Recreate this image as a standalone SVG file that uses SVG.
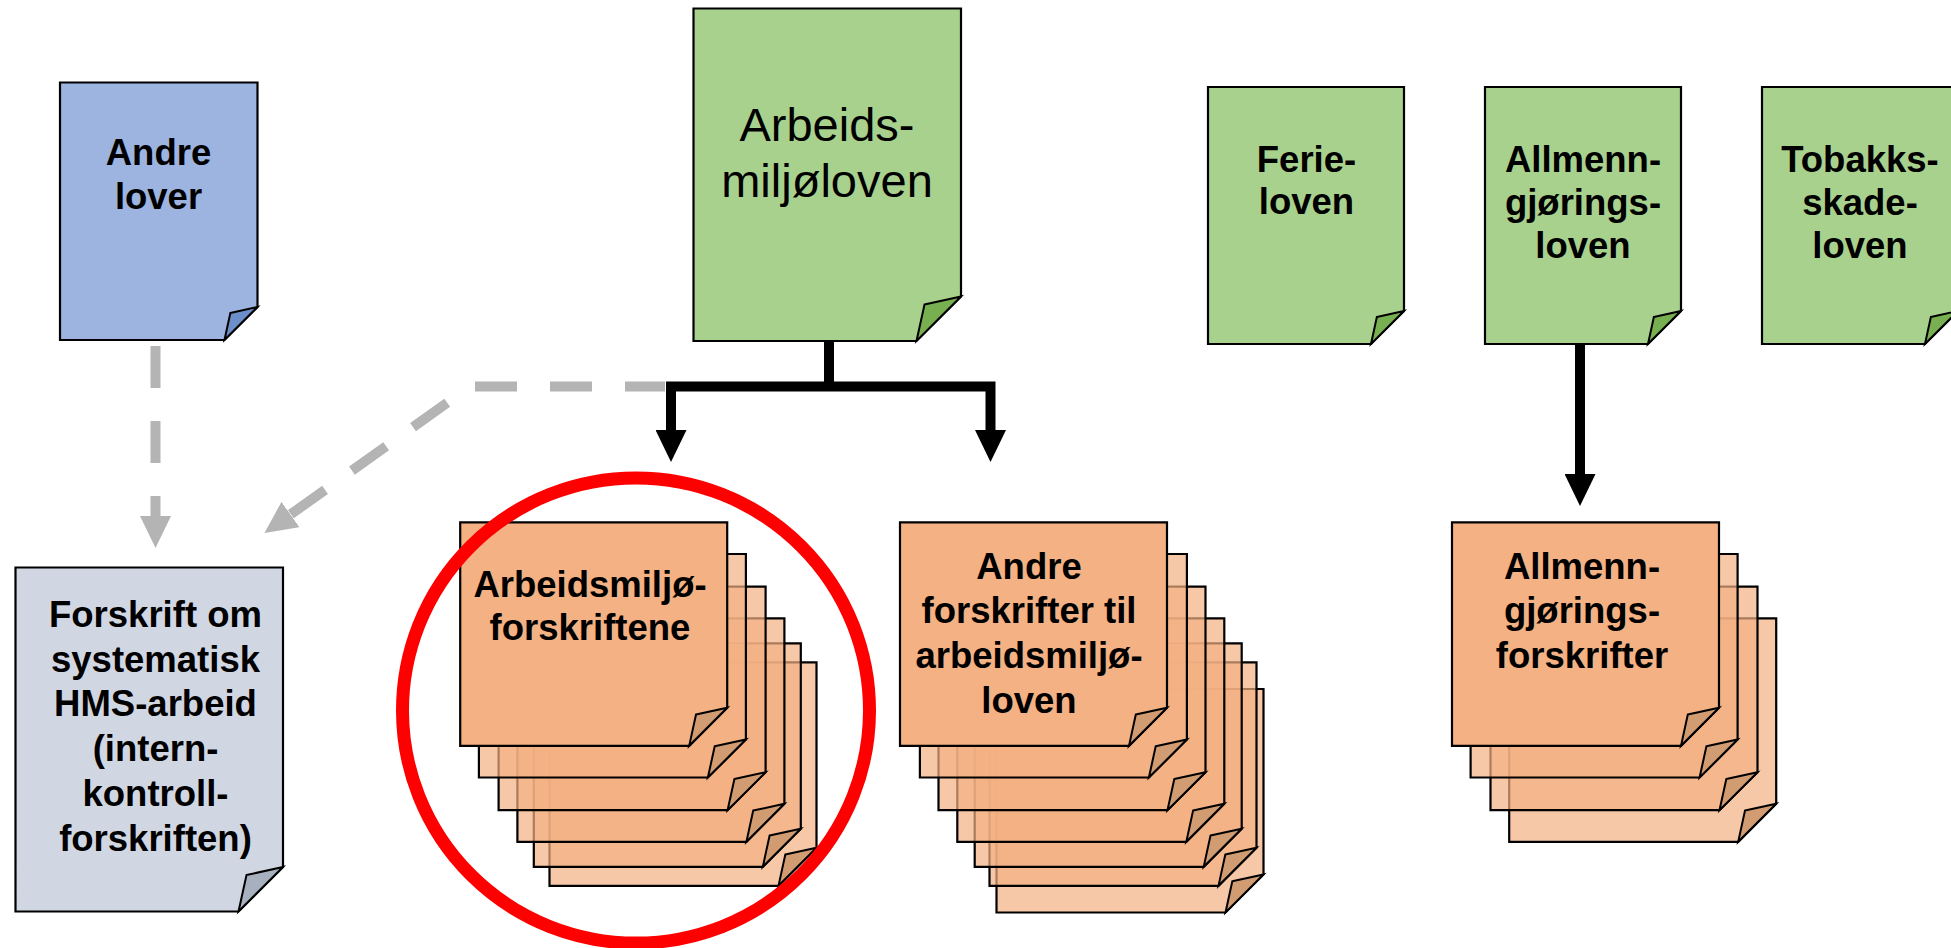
<svg xmlns="http://www.w3.org/2000/svg" xmlns:xlink="http://www.w3.org/1999/xlink" width="1951" height="948" viewBox="0 0 1951 948">
<style>
.doc{stroke:#000;stroke-width:2.2;stroke-linejoin:miter}
.fold{stroke:#000;stroke-width:2;stroke-linejoin:miter}
.blue{fill:#9CB4DF}.bluef{fill:#6C8FC9}
.green{fill:#A9D18E}.greenf{fill:#78AF50}
.gray{fill:#D1D7E2}.grayf{fill:#A7B0BF}
.t{font-family:"Liberation Sans",Arial,sans-serif;font-weight:bold;font-size:36.5px;fill:#000;text-anchor:middle}
.tr{font-family:"Liberation Sans",Arial,sans-serif;font-weight:normal;font-size:47px;fill:#000;text-anchor:middle}
.blk{fill:none;stroke:#000;stroke-width:10;stroke-linejoin:miter}
.gr{fill:none;stroke:#B4B4B4;stroke-width:10;stroke-dasharray:42 33}
</style>
<defs>
<marker id="ab" markerUnits="userSpaceOnUse" markerWidth="32" markerHeight="31" viewBox="0 0 32 31" refX="0" refY="15.5" orient="auto-start-reverse">
<path d="M0,0 L32,15.5 L0,31 Z" fill="#000"/>
</marker>
<marker id="ag" markerUnits="userSpaceOnUse" markerWidth="32" markerHeight="31" viewBox="0 0 32 31" refX="0" refY="15.5" orient="auto">
<path d="M0,0 L32,15.5 L0,31 Z" fill="#B4B4B4"/>
</marker>
<g id="back">
<path d="M0,0 H267 V185.5 L229,223.5 H0 Z" fill="#F4B183" fill-opacity="0.7" class="doc"/>
<path d="M235.8,192.3 L267,185.5 L229,223.5 Z" fill="#D29C72" class="fold"/>
</g>
<g id="front">
<path d="M0,0 H267 V185.5 L229,223.5 H0 Z" fill="#F4B183" class="doc"/>
<path d="M235.8,192.3 L267,185.5 L229,223.5 Z" fill="#D29C72" class="fold"/>
</g>
</defs>
<rect width="1951" height="948" fill="#fff"/>

<g id="connectors">
<path class="gr" d="M155.5,340 V516" stroke-dashoffset="69" marker-end="url(#ag)"/>
<path class="gr" d="M665,386.5 H470 L290.5,514.5" stroke-dashoffset="2" marker-end="url(#ag)"/>
<path class="blk" d="M829,341 V386.5"/>
<path class="blk" d="M671,430 V386.5 H990.5 V430" marker-start="url(#ab)" marker-end="url(#ab)"/>
<path class="blk" d="M1580,344 V474" marker-end="url(#ab)"/>
</g>

<g id="andre-lover">
<path class="doc blue" d="M60,82.5 H257.5 V307 L224.5,340 H60 Z"/>
<path class="fold bluef" d="M230.4,312.9 L257.5,307 L224.5,340 Z"/>
<text class="t" x="158.5" y="165">Andre</text>
<text class="t" x="158.5" y="209">lover</text>
</g>

<g id="arbeidsmiljoloven">
<path class="doc green" d="M693.5,8.5 H961 V296.5 L916.5,341 H693.5 Z"/>
<path class="fold greenf" d="M924.5,304.5 L961,296.5 L916.5,341 Z"/>
<text class="tr" x="827" y="140.7">Arbeids-</text>
<text class="tr" x="827" y="197.3">miljøloven</text>
</g>

<g id="ferieloven">
<path class="doc green" d="M1208,87 H1404 V311 L1371,344 H1208 Z"/>
<path class="fold greenf" d="M1376.9,316.9 L1404,311 L1371,344 Z"/>
<text class="t" x="1306.5" y="171.5">Ferie-</text>
<text class="t" x="1306.5" y="214">loven</text>
</g>

<g id="allmenngjoringsloven">
<path class="doc green" d="M1485,87 H1681 V311 L1648,344 H1485 Z"/>
<path class="fold greenf" d="M1653.9,316.9 L1681,311 L1648,344 Z"/>
<text class="t" x="1583" y="171.5">Allmenn-</text>
<text class="t" x="1583" y="214.5">gjørings-</text>
<text class="t" x="1583" y="258">loven</text>
</g>

<g id="tobakksskadeloven">
<path class="doc green" d="M1762,87 H1958 V311 L1925,344 H1762 Z"/>
<path class="fold greenf" d="M1930.9,316.9 L1958,311 L1925,344 Z"/>
<text class="t" x="1860" y="171.5">Tobakks-</text>
<text class="t" x="1860" y="214.5">skade-</text>
<text class="t" x="1860" y="258">loven</text>
</g>

<g id="internkontrollforskriften">
<path class="doc gray" d="M15.5,567.5 H283 V867 L238.5,911.5 H15.5 Z"/>
<path class="fold grayf" d="M246.5,875 L283,867 L238.5,911.5 Z"/>
<text class="t" x="155.5" y="627">Forskrift om</text>
<text class="t" x="155.5" y="671.7">systematisk</text>
<text class="t" x="155.5" y="716.4">HMS-arbeid</text>
<text class="t" x="155.5" y="761">(intern-</text>
<text class="t" x="155.5" y="805.8">kontroll-</text>
<text class="t" x="155.5" y="850.5">forskriften)</text>
</g>

<g id="arbeidsmiljoforskriftene">
<use xlink:href="#back" x="549.5" y="662.3"/>
<use xlink:href="#back" x="533.8" y="643.3"/>
<use xlink:href="#back" x="517.4" y="618.3"/>
<use xlink:href="#back" x="498.6" y="586.7"/>
<use xlink:href="#back" x="478.9" y="554"/>
<use xlink:href="#front" x="460.2" y="522.3"/>
<text class="t" x="590" y="596.7">Arbeidsmiljø-</text>
<text class="t" x="590" y="640">forskriftene</text>
</g>

<g id="andre-forskrifter">
<use xlink:href="#back" x="996.5" y="689"/>
<use xlink:href="#back" x="989.5" y="662.3"/>
<use xlink:href="#back" x="974.7" y="643.3"/>
<use xlink:href="#back" x="957.3" y="618.3"/>
<use xlink:href="#back" x="938.5" y="586.7"/>
<use xlink:href="#back" x="919.9" y="554"/>
<use xlink:href="#front" x="900" y="522.3"/>
<text class="t" x="1029" y="578.5">Andre</text>
<text class="t" x="1029" y="623">forskrifter til</text>
<text class="t" x="1029" y="667.7">arbeidsmiljø-</text>
<text class="t" x="1029" y="712.5">loven</text>
</g>

<g id="allmenngjoringsforskrifter">
<use xlink:href="#back" x="1509.2" y="618.3"/>
<use xlink:href="#back" x="1490.5" y="586.7"/>
<use xlink:href="#back" x="1470.6" y="554"/>
<use xlink:href="#front" x="1452" y="522.3"/>
<text class="t" x="1582" y="578.7">Allmenn-</text>
<text class="t" x="1582" y="623">gjørings-</text>
<text class="t" x="1582" y="667.5">forskrifter</text>
</g>

<g id="highlight">
<ellipse cx="636" cy="710.5" rx="233.5" ry="232.5" fill="none" stroke="#FF0000" stroke-width="13"/>
</g>
</svg>
